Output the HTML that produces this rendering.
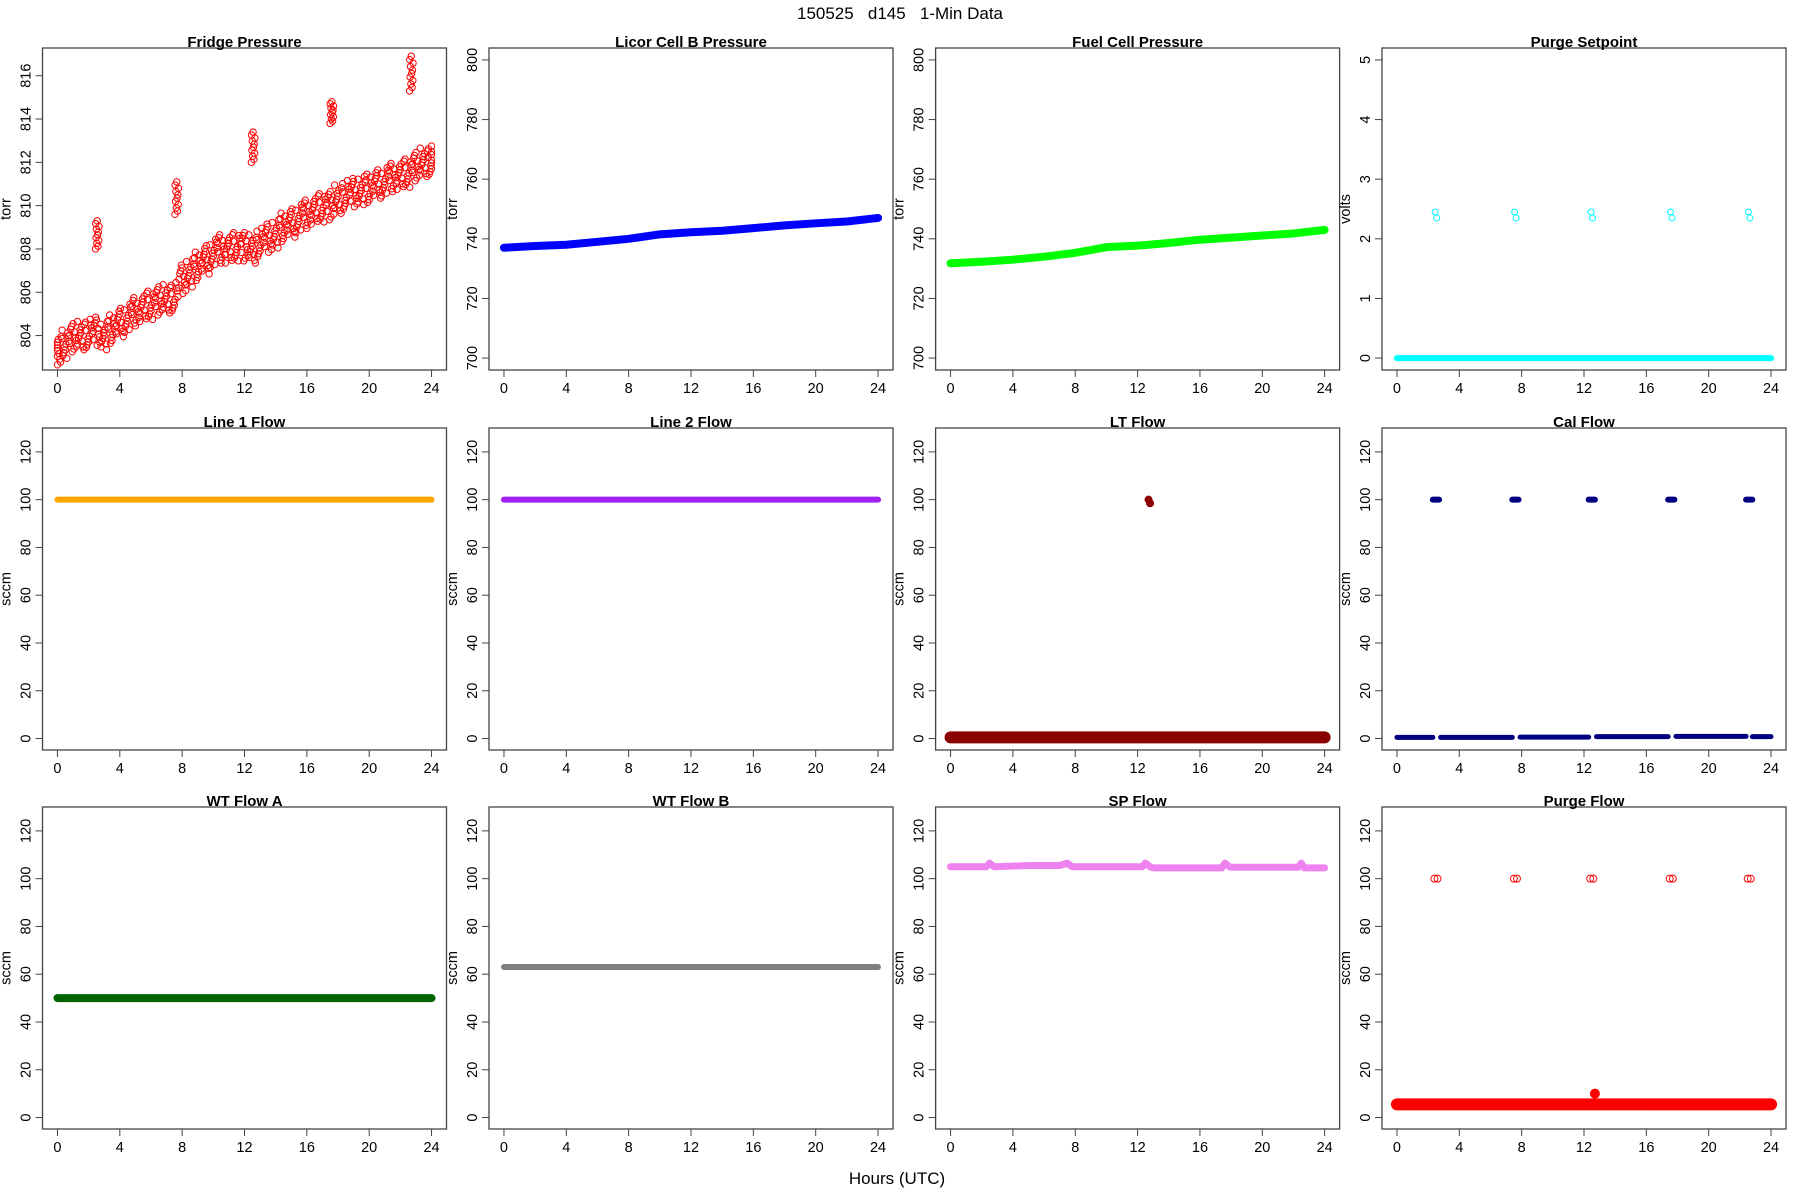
<!DOCTYPE html>
<html><head><meta charset="utf-8"><style>
html,body{margin:0;padding:0;background:#fff;}
svg{display:block;font-family:"Liberation Sans",sans-serif;}
</style></head><body>
<svg id="fig" width="1800" height="1200" viewBox="0 0 1800 1200">
<text x="900" y="19" text-anchor="middle" font-size="17" style="white-space:pre">150525   d145   1-Min Data</text>
<text x="897" y="1184" text-anchor="middle" font-size="17">Hours (UTC)</text>
</svg>
<script>
// ---- data ----
const fridgeHours = [0,0.5,1,1.5,2,2.5,3,3.5,4,4.5,5,5.5,6,6.5,7,7.5,8,8.5,9,9.5,10,10.5,11,11.5,12,12.5,13,13.5,14,14.5,15,15.5,16,16.5,17,17.5,18,18.5,19,19.5,20,20.5,21,21.5,22,22.5,23,23.5,24];
const fridgeMid = [803.3,803.6,803.9,804.0,804.1,804.2,804.0,804.3,804.6,804.8,805.1,805.3,805.4,805.6,805.7,805.8,806.6,806.9,807.2,807.5,807.8,808.0,808.0,808.1,808.1,808.0,808.3,808.5,808.7,809.0,809.2,809.4,809.6,809.8,809.9,810.0,810.3,810.5,810.6,810.7,810.8,811.0,811.1,811.3,811.4,811.5,811.8,812.0,812.1];
const fridgeSpikeHours = [2.55,7.65,12.55,17.6,22.7];
const fridgeSpikeLow = [808.0,809.6,812.0,813.8,815.3];
const fridgeSpikeHigh = [809.3,811.1,813.4,814.8,816.9];
const trendHours = [0,2,4,6,8,10,12,14,16,18,20,22,24];
const licorValues = [737,737.6,738,739,740,741.5,742.2,742.7,743.6,744.5,745.2,745.8,747];
const fuelValues = [731.8,732.3,733,734,735.3,737.2,737.7,738.6,739.7,740.4,741.1,741.8,743];
const eventHours = [2.5,7.6,12.5,17.6,22.6];
const purgeSetpointEvent = [2.4,2.4,2.4,2.4,2.4];
const flatHours = [0,24];
const line1Values = [100,100];
const line2Values = [100,100];
const ltValues = [0.5,0.5];
const ltSpikeHours = [12.7];
const ltSpikeValues = [100];
const calSegStart = [0,2.8,7.9,12.8,17.9,22.8];
const calSegEnd = [2.3,7.4,12.3,17.4,22.4,24];
const calValues = [0.5,0.5,0.6,0.8,0.9,0.8];
const calSpikeValues = [100,100,100,100,100];
const wtaValues = [50,50];
const wtbValues = [63,63];
const spHours = [0,2.3,2.5,2.8,5,7,7.5,7.8,8,12.3,12.5,12.8,13,17.4,17.6,17.9,18,22.3,22.5,22.7,24];
const spValues = [105,105,106.5,105,105.5,105.5,106.5,105,105,105,106.5,105,104.5,104.5,106.5,105,104.8,104.8,106.5,104.5,104.5];
const purgeFlowValues = [5.5,5.5];
const purgeFlowSpike = [100,100,100,100,100];
const purgeFlowBlipHours = [12.7];
const purgeFlowBlipValues = [10];

const xTicks = [0,4,8,12,16,20,24];
const fridgeTicks = [804,806,808,810,812,814,816];
const torrTicks = [700,720,740,760,780,800];
const voltTicks = [0,1,2,3,4,5];
const flowTicks = [0,20,40,60,80,100,120];

// ---- layout ----
const colX = [42.5,489,935.6,1382], rowY = [48,428,807], W = 404, H = 322;
const NS = "http://www.w3.org/2000/svg";
const svg = document.getElementById('fig');
function mk(tag, attrs, parent){const e=document.createElementNS(NS,tag);for(const k in attrs)e.setAttribute(k,attrs[k]);(parent||svg).appendChild(e);return e;}

function panel(col,row,title,ylab,ylim,yticks,name){
  const x0=colX[col], y0=rowY[row];
  const g=mk('g',{});
  
  
  const sx=h=>x0+W*(h+0.96)/25.92;
  const sy=v=>y0+H-H*(v-ylim[0])/(ylim[1]-ylim[0]);
  const box=mk('rect',{x:x0,y:y0,width:W,height:H,fill:'none',stroke:'#444','stroke-width':1.3},g);
  
  
  const t=mk('text',{x:x0+W/2,y:y0-1,'text-anchor':'middle','font-size':15,'font-weight':'bold'},g);
  t.textContent=title;
  
  
  const xa=mk('g',{},g);
  
  
  mk('line',{x1:sx(0),x2:sx(24),y1:y0+H,y2:y0+H,stroke:'#444'},xa);
  xTicks.forEach(v=>{mk('line',{x1:sx(v),x2:sx(v),y1:y0+H,y2:y0+H+7,stroke:'#444'},xa);
    const l=mk('text',{x:sx(v),y:y0+H+23,'text-anchor':'middle','font-size':14.5},xa);l.textContent=v;});
  const ya=mk('g',{},g);
  
  
  mk('line',{x1:x0,x2:x0,y1:sy(yticks[0]),y2:sy(yticks[yticks.length-1]),stroke:'#444'},ya);
  yticks.forEach(v=>{mk('line',{x1:x0-7,x2:x0,y1:sy(v),y2:sy(v),stroke:'#444'},ya);
    const l=mk('text',{x:0,y:0,'text-anchor':'middle','font-size':14.5,transform:`translate(${x0-12},${sy(v)}) rotate(-90)`},ya);l.textContent=v;});
  const yl=mk('text',{x:0,y:0,'text-anchor':'middle','font-size':14.5,transform:`translate(${x0-32},${y0+H/2}) rotate(-90)`},g);
  yl.textContent=ylab;
  
  
  const clip='c'+name;
  const cp=mk('clipPath',{id:clip},g);mk('rect',{x:x0,y:y0,width:W,height:H},cp);
  const d=mk('g',{'clip-path':`url(#${clip})`},g);
  
  
  return {sx,sy,d};
}
function line(p,hs,vs,color,w){
  const pts=hs.map((h,i)=>p.sx(h)+','+p.sy(vs[i])).join(' ');
  const e=mk('polyline',{points:pts,fill:'none',stroke:color,'stroke-width':w,'stroke-linecap':'round','stroke-linejoin':'round'},p.d);
  
  
}
function dot(p,h,v,color,r,fill){
  const c=mk('circle',{cx:p.sx(h),cy:p.sy(v),r:r||3.2,fill:fill?color:'none',stroke:color,'stroke-width':1},p.d);
  
  
}
const jit=[-0.22,0.1,-0.05,0.2,-0.15,0.05,0.15,-0.1,0.23,-0.2,0.0];
const off=[-1,-0.8,-0.6,-0.4,-0.2,0,0.2,0.4,0.6,0.8,1];

// Fridge
let p=panel(0,0,'Fridge Pressure','torr',[802.41,817.28],fridgeTicks,'fridge-pressure');
fridgeHours.forEach((h,i)=>off.forEach((o,k)=>dot(p,Math.min(24,Math.max(0,h+jit[(k*3+i)%11])),fridgeMid[i]+o*0.65,'#ff0000')));
fridgeSpikeHours.forEach((h,i)=>off.forEach((o,k)=>dot(p,h+jit[k]*0.5,fridgeSpikeLow[i]+(o+1)/2*(fridgeSpikeHigh[i]-fridgeSpikeLow[i]),'#ff0000')));
// Licor
p=panel(1,0,'Licor Cell B Pressure','torr',[696,804],torrTicks,'licor-pressure');
line(p,trendHours,licorValues,'#0000ff',8);
// Fuel
p=panel(2,0,'Fuel Cell Pressure','torr',[696,804],torrTicks,'fuel-cell-pressure');
line(p,trendHours,fuelValues,'#00ff00',8);
// Purge setpoint
p=panel(3,0,'Purge Setpoint','volts',[-0.2,5.2],voltTicks,'purge-setpoint');
line(p,flatHours,[0,0],'#00ffff',6);
eventHours.forEach((h,i)=>{dot(p,h-0.05,purgeSetpointEvent[i]+0.05,'#00ffff',3);dot(p,h+0.05,purgeSetpointEvent[i]-0.05,'#00ffff',3);});
const FL=[-4.8,130];
p=panel(0,1,'Line 1 Flow','sccm',FL,flowTicks,'line1-flow');
line(p,flatHours,line1Values,'#ffa500',6);
p=panel(1,1,'Line 2 Flow','sccm',FL,flowTicks,'line2-flow');
line(p,flatHours,line2Values,'#a020f0',6);
p=panel(2,1,'LT Flow','sccm',FL,flowTicks,'lt-flow');
line(p,flatHours,ltValues,'#8b0000',12);
ltSpikeHours.forEach((h,i)=>{dot(p,h,ltSpikeValues[i],'#8b0000',3.5,true);dot(p,h+0.1,ltSpikeValues[i]-1.5,'#8b0000',3.5,true);});
p=panel(3,1,'Cal Flow','sccm',FL,flowTicks,'cal-flow');
calSegStart.forEach((s,i)=>line(p,[s,calSegEnd[i]],[calValues[i],calValues[i]],'#000080',5));
eventHours.forEach((h,i)=>line(p,[h-0.2,h+0.2],[calSpikeValues[i],calSpikeValues[i]],'#000080',6));
p=panel(0,2,'WT Flow A','sccm',FL,flowTicks,'wt-flow-a');
line(p,flatHours,wtaValues,'#006400',8);
p=panel(1,2,'WT Flow B','sccm',FL,flowTicks,'wt-flow-b');
line(p,flatHours,wtbValues,'#808080',6);
p=panel(2,2,'SP Flow','sccm',FL,flowTicks,'sp-flow');
line(p,spHours,spValues,'#ee82ee',7);
p=panel(3,2,'Purge Flow','sccm',FL,flowTicks,'purge-flow');
line(p,flatHours,purgeFlowValues,'#ff0000',12);
eventHours.forEach((h,i)=>{dot(p,h-0.1,purgeFlowSpike[i],'#ff0000',3.5);dot(p,h+0.1,purgeFlowSpike[i],'#ff0000',3.5);});
purgeFlowBlipHours.forEach((h,i)=>dot(p,h,purgeFlowBlipValues[i],'#ff0000',4.5,true));
</script>
</body></html>
